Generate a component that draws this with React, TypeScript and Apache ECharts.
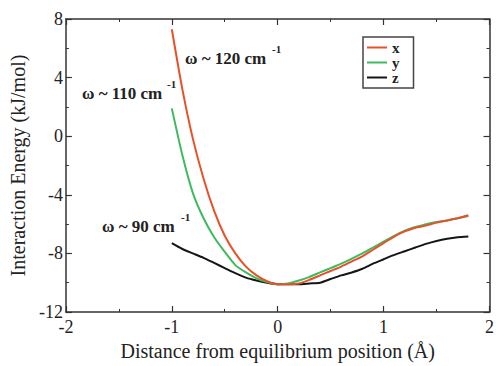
import React, { useEffect, useRef } from "react";
import * as echarts from "echarts";

const xValues = [-1, -0.9, -0.8, -0.7, -0.6, -0.5, -0.4, -0.3, -0.2, -0.1, 0, 0.1, 0.2, 0.3, 0.4, 0.5, 0.6, 0.7, 0.8, 0.9, 1.0, 1.1, 1.2, 1.3, 1.4, 1.5, 1.6, 1.7, 1.8];
const seriesX = [7.3, 3.2, -0.2, -2.9, -5.1, -6.8, -8.0, -8.9, -9.5, -9.9, -10.1, -10.1, -10.05, -9.8, -9.5, -9.2, -8.9, -8.55, -8.2, -7.75, -7.3, -6.85, -6.5, -6.25, -6.1, -5.9, -5.75, -5.6, -5.4];
const seriesY = [1.9, -1.3, -3.9, -5.6, -6.9, -7.9, -8.8, -9.3, -9.7, -9.95, -10.1, -10.05, -9.85, -9.6, -9.3, -9.0, -8.7, -8.35, -8.0, -7.6, -7.2, -6.8, -6.45, -6.2, -6.0, -5.85, -5.75, -5.6, -5.45];
const seriesZ = [-7.3, -7.7, -8.0, -8.3, -8.65, -9.0, -9.35, -9.65, -9.85, -10.0, -10.1, -10.1, -10.1, -10.05, -10.0, -9.75, -9.5, -9.3, -9.05, -8.7, -8.4, -8.1, -7.85, -7.6, -7.35, -7.15, -7.0, -6.9, -6.85];
const seriesNames = ["x", "y", "z"];
const colors = ["#e8502a", "#3fba5f", "#151515"];

const FONT = "'Liberation Serif', 'DejaVu Serif', serif";

export default function App() {
  const ref = useRef<HTMLDivElement>(null);
  useEffect(() => {
    if (!ref.current) return;
    const chart = echarts.init(ref.current, null, { renderer: "svg" });
    const allData = [seriesX, seriesY, seriesZ];
    const axisLine = { show: true, onZero: false, lineStyle: { color: "#333", width: 1.5 } };
    const tick = { show: true, inside: true, length: 6, lineStyle: { color: "#333", width: 1.2 } };
    const minor = { show: true, splitNumber: 2, length: 3, lineStyle: { color: "#333", width: 1 } };
    const labelStyle = { fontFamily: FONT, fontSize: 18, color: "#222" };
    chart.setOption({
      animation: false,
      backgroundColor: "#fff",
      grid: { left: 65, right: 5, top: 19, bottom: 49, containLabel: false },
      legend: {
        orient: "vertical",
        left: 363,
        top: 37,
        data: seriesNames,
        icon: "rect",
        itemWidth: 20,
        itemHeight: 2,
        itemGap: 0,
        padding: [3, 14, 3, 4],
        borderColor: "#444",
        borderWidth: 1.5,
        textStyle: { fontFamily: FONT, fontSize: 15, fontWeight: "bold", color: "#222", padding: [0, 0, 0, 0] },
      },
      xAxis: [
        {
          type: "value", min: -2, max: 2, interval: 1,
          name: "Distance from equilibrium position (Å)",
          nameLocation: "middle", nameGap: 29,
          nameTextStyle: { fontFamily: FONT, fontSize: 20, color: "#222" },
          axisLine, axisTick: tick, minorTick: minor, splitLine: { show: false },
          axisLabel: { ...labelStyle, margin: 6 },
        },
        {
          type: "value", min: -2, max: 2, interval: 1, position: "top",
          axisLine, axisTick: tick, minorTick: minor, splitLine: { show: false },
          axisLabel: { show: false },
        },
      ],
      yAxis: [
        {
          type: "value", min: -12, max: 8, interval: 4,
          name: "Interaction Energy (kJ/mol)",
          nameLocation: "middle", nameGap: 36,
          nameTextStyle: { fontFamily: FONT, fontSize: 20, color: "#222" },
          axisLine, axisTick: tick, minorTick: minor, splitLine: { show: false },
          axisLabel: { ...labelStyle, margin: 3 },
        },
        {
          type: "value", min: -12, max: 8, interval: 4, position: "right",
          axisLine, axisTick: tick, minorTick: minor, splitLine: { show: false },
          axisLabel: { show: false },
        },
      ],
      series: seriesNames.map((n, i) => ({
        name: n,
        type: "line",
        showSymbol: false,
        symbol: "none",
        smooth: 0.2,
        color: colors[i],
        lineStyle: { width: 2, color: colors[i] },
        data: xValues.map((x, j) => [x, allData[i][j]]),
        z: 3 - i,
      })),
      graphic: [
        { type: "text", left: 185, top: 50, style: { text: "ω ~ 120 cm", font: `bold 17px ${FONT}`, fill: "#222" } },
        { type: "text", left: 272, top: 43, style: { text: "-1", font: `bold 11px ${FONT}`, fill: "#222" } },
        { type: "text", left: 82, top: 85, style: { text: "ω ~ 110 cm", font: `bold 17px ${FONT}`, fill: "#222" } },
        { type: "text", left: 167, top: 78, style: { text: "-1", font: `bold 11px ${FONT}`, fill: "#222" } },
        { type: "text", left: 102, top: 218, style: { text: "ω ~ 90 cm", font: `bold 17px ${FONT}`, fill: "#222" } },
        { type: "text", left: 181, top: 211, style: { text: "-1", font: `bold 11px ${FONT}`, fill: "#222" } },
      ],
    });
    return () => chart.dispose();
  }, []);
  return <div ref={ref} style={{ width: 497, height: 366, position: "absolute", left: 0, top: 0 }} />;
}
